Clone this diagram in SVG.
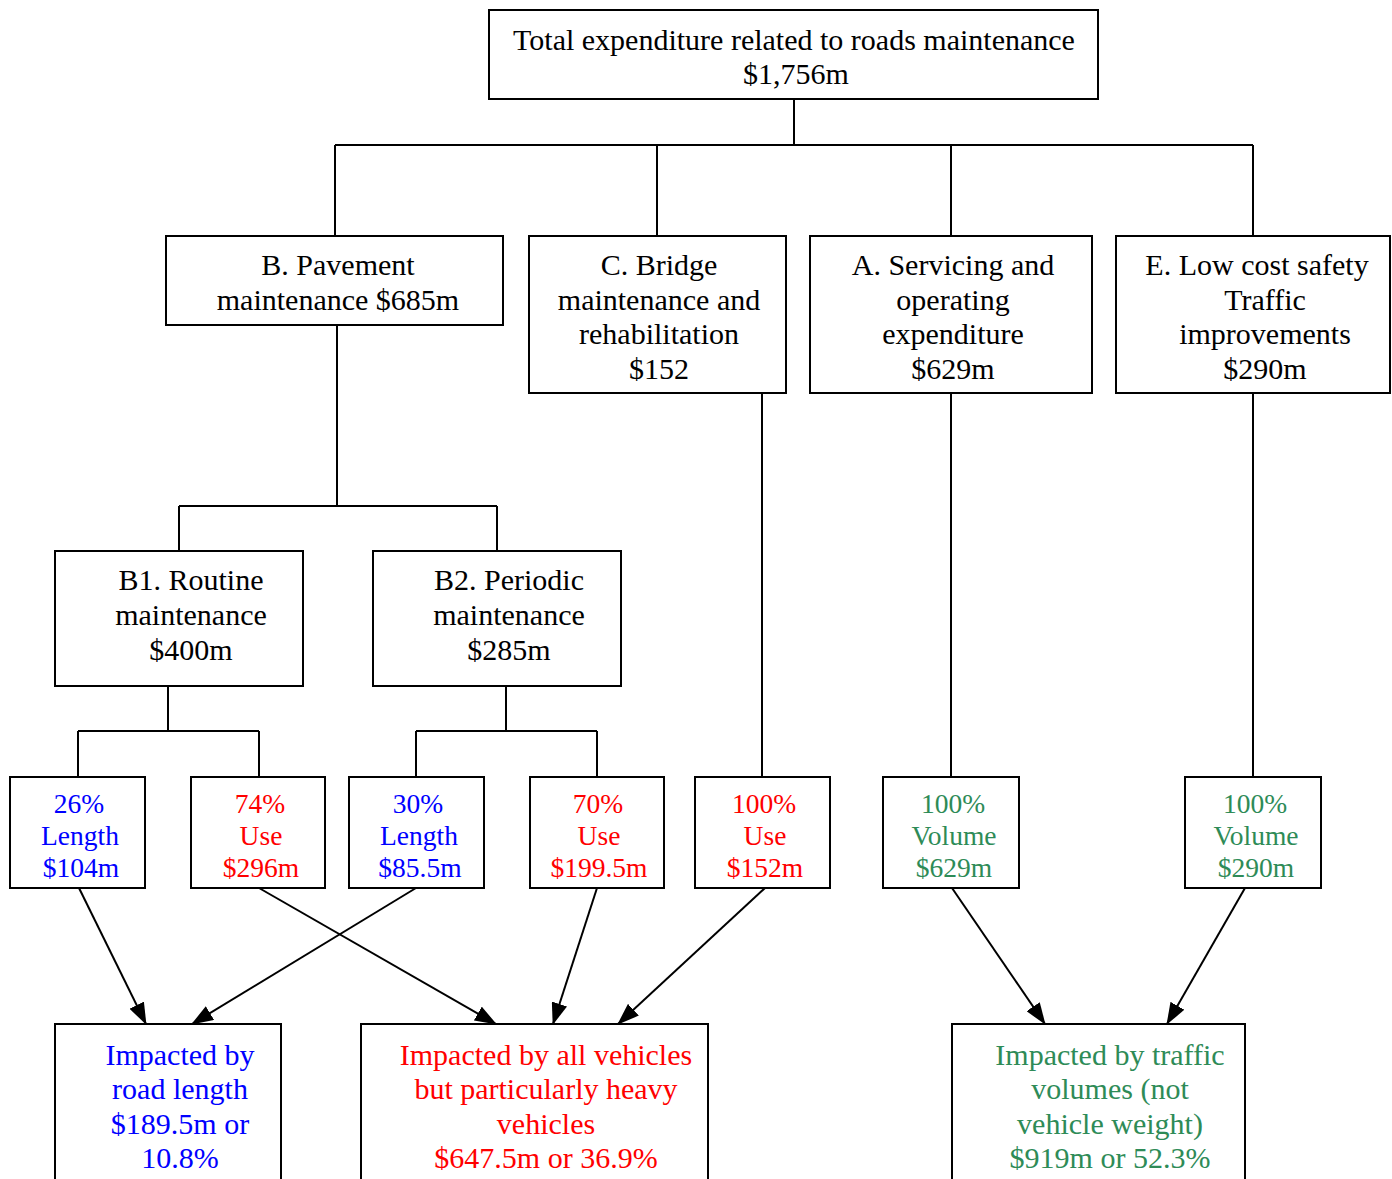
<svg xmlns="http://www.w3.org/2000/svg" width="1392" height="1179" viewBox="0 0 1392 1179">
<style>
rect{fill:#fff;stroke:#000;stroke-width:2}
text{font-family:"Liberation Serif","Times New Roman",serif;font-size:30px;text-anchor:middle}
.s{font-size:27.5px}
.k{fill:#000}.b{fill:#0000ff}.r{fill:#ff0000}.g{fill:#2e8b57}
#conn path{fill:none;stroke:#000;stroke-width:2}
</style>
<defs>
<marker id="ah" markerWidth="22" markerHeight="16" refX="21" refY="8" orient="auto" markerUnits="userSpaceOnUse">
<path d="M0,0 L22,8 L0,16 Z" fill="#000"/>
</marker>
</defs>
<rect x="0" y="0" width="1392" height="1179" style="stroke:none"/>
<g id="conn">
<path d="M794,99 V145 M335,145 H1253 M335,145 V236 M657,145 V236 M951,145 V236 M1253,145 V236"/>
<path d="M337,325 V506 M179,506 H497 M179,506 V551 M497,506 V551"/>
<path d="M168,686 V731 M78,731 H259 M78,731 V777 M259,731 V777"/>
<path d="M506,686 V731 M416,731 H597 M416,731 V777 M597,731 V777"/>
<path d="M762,393 V777 M951,393 V777 M1253,393 V777"/>
<path d="M79,888 L146,1024" marker-end="url(#ah)"/>
<path d="M259,888 L496,1024" marker-end="url(#ah)"/>
<path d="M416,888 L192,1024" marker-end="url(#ah)"/>
<path d="M597,888 L553,1024" marker-end="url(#ah)"/>
<path d="M765,888 L618,1024" marker-end="url(#ah)"/>
<path d="M952,888 L1045,1024" marker-end="url(#ah)"/>
<path d="M1245,888 L1167,1024" marker-end="url(#ah)"/>
</g>
<g id="total"><rect x="489" y="10" width="609" height="89"/>
<text class="k" x="794" y="50">Total expenditure related to roads maintenance</text>
<text class="k" x="796" y="84">$1,756m</text></g>
<g id="B"><rect x="166" y="236" width="337" height="89"/>
<text class="k" x="338" y="275">B. Pavement</text>
<text class="k" x="338" y="310">maintenance $685m</text></g>
<g id="C"><rect x="529" y="236" width="257" height="157"/>
<text class="k" x="659" y="275">C. Bridge</text>
<text class="k" x="659" y="310">maintenance and</text>
<text class="k" x="659" y="344">rehabilitation</text>
<text class="k" x="659" y="379">$152</text></g>
<g id="A"><rect x="810" y="236" width="282" height="157"/>
<text class="k" x="953" y="275">A. Servicing and</text>
<text class="k" x="953" y="310">operating</text>
<text class="k" x="953" y="344">expenditure</text>
<text class="k" x="953" y="379">$629m</text></g>
<g id="E"><rect x="1116" y="236" width="274" height="157"/>
<text class="k" x="1257" y="275">E. Low cost safety</text>
<text class="k" x="1265" y="310">Traffic</text>
<text class="k" x="1265" y="344">improvements</text>
<text class="k" x="1265" y="379">$290m</text></g>
<g id="B1"><rect x="55" y="551" width="248" height="135"/>
<text class="k" x="191" y="590">B1. Routine</text>
<text class="k" x="191" y="625">maintenance</text>
<text class="k" x="191" y="660">$400m</text></g>
<g id="B2"><rect x="373" y="551" width="248" height="135"/>
<text class="k" x="509" y="590">B2. Periodic</text>
<text class="k" x="509" y="625">maintenance</text>
<text class="k" x="509" y="660">$285m</text></g>
<g id="n26"><rect x="10" y="777" width="135" height="111"/>
<text class="s b" x="79" y="813">26%</text><text class="s b" x="80" y="845">Length</text><text class="s b" x="81" y="877">$104m</text></g>
<g id="n74"><rect x="191" y="777" width="134" height="111"/>
<text class="s r" x="260" y="813">74%</text><text class="s r" x="261" y="845">Use</text><text class="s r" x="261" y="877">$296m</text></g>
<g id="n30"><rect x="349" y="777" width="135" height="111"/>
<text class="s b" x="418" y="813">30%</text><text class="s b" x="419" y="845">Length</text><text class="s b" x="420" y="877">$85.5m</text></g>
<g id="n70"><rect x="530" y="777" width="134" height="111"/>
<text class="s r" x="598" y="813">70%</text><text class="s r" x="599" y="845">Use</text><text class="s r" x="599" y="877">$199.5m</text></g>
<g id="n100u"><rect x="695" y="777" width="135" height="111"/>
<text class="s r" x="764" y="813">100%</text><text class="s r" x="765" y="845">Use</text><text class="s r" x="765" y="877">$152m</text></g>
<g id="n100v1"><rect x="883" y="777" width="136" height="111"/>
<text class="s g" x="953" y="813">100%</text><text class="s g" x="954" y="845">Volume</text><text class="s g" x="954" y="877">$629m</text></g>
<g id="n100v2"><rect x="1185" y="777" width="136" height="111"/>
<text class="s g" x="1255" y="813">100%</text><text class="s g" x="1256" y="845">Volume</text><text class="s g" x="1256" y="877">$290m</text></g>
<g id="length"><rect x="55" y="1024" width="226" height="170"/>
<text class="b" x="180" y="1065">Impacted by</text>
<text class="b" x="180" y="1099">road length</text>
<text class="b" x="180" y="1134">$189.5m or</text>
<text class="b" x="180" y="1168">10.8%</text></g>
<g id="use"><rect x="361" y="1024" width="347" height="170"/>
<text class="r" x="546" y="1065">Impacted by all vehicles</text>
<text class="r" x="546" y="1099">but particularly heavy</text>
<text class="r" x="546" y="1134">vehicles</text>
<text class="r" x="546" y="1168">$647.5m or 36.9%</text></g>
<g id="volume"><rect x="952" y="1024" width="293" height="170"/>
<text class="g" x="1110" y="1065">Impacted by traffic</text>
<text class="g" x="1110" y="1099">volumes (not</text>
<text class="g" x="1110" y="1134">vehicle weight)</text>
<text class="g" x="1110" y="1168">$919m or 52.3%</text></g>
</svg>
